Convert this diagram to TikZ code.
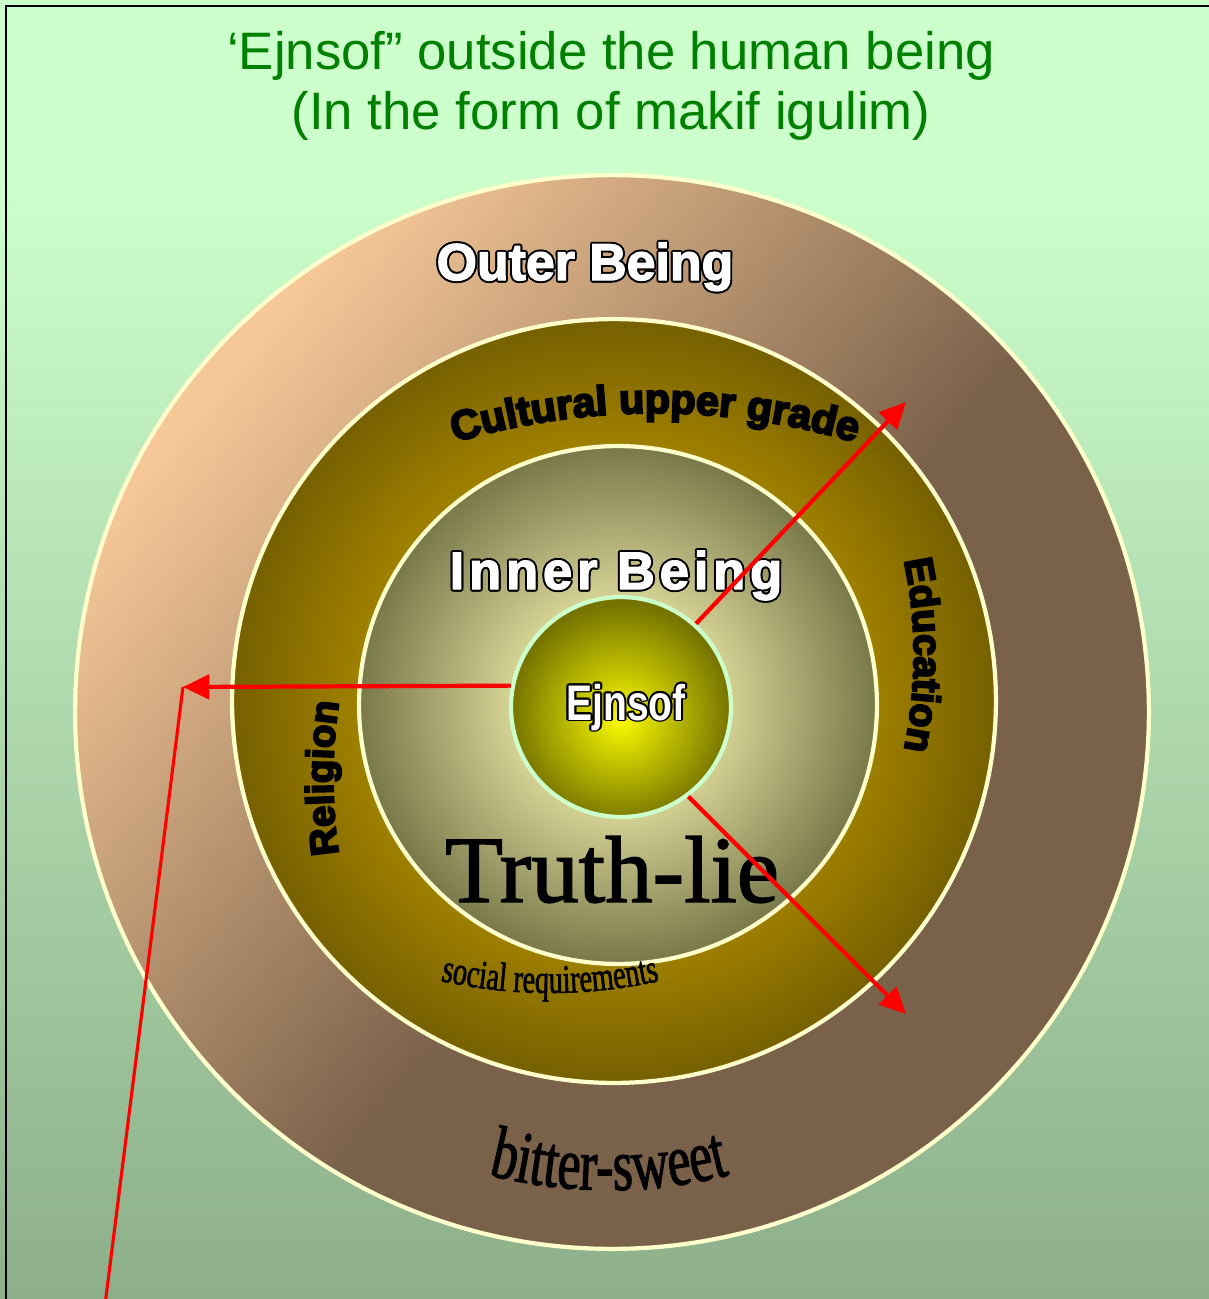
\documentclass[tikz,border=0pt]{standalone}
\usepackage{fontspec}
\setmainfont{Liberation Sans}
\newfontfamily\boldsans[FakeBold=2.5]{Liberation Sans Bold}
\newfontfamily\spacedsans[LetterSpace=9,FakeBold=2.5]{Liberation Sans Bold}
\newfontfamily\heavysans[FakeBold=5]{Liberation Sans Bold}
\newfontfamily\narrowsans[FakeStretch=0.78]{Liberation Sans Bold}
\newfontfamily\bookserif[FakeBold=1.5]{Liberation Serif}
\newfontfamily\narrowserif[FakeStretch=0.7,FakeBold=1.5]{Liberation Serif}
\usetikzlibrary{calc,arrows.meta,decorations.text}
\definecolor{bgtop}{RGB}{204,255,204}
\definecolor{bgbot}{RGB}{141,175,138}
\definecolor{titlegreen}{RGB}{0,128,0}
\definecolor{rim}{RGB}{255,255,204}
\definecolor{mint}{RGB}{204,255,204}
\definecolor{peach}{RGB}{246,200,152}
\definecolor{bark}{RGB}{122,97,74}
\definecolor{goldhi}{RGB}{158,127,0}
\definecolor{golddk}{RGB}{118,96,0}
\definecolor{palehi}{RGB}{240,236,170}
\definecolor{paledk}{RGB}{120,120,74}
\definecolor{yellowhi}{RGB}{250,250,0}
\definecolor{yellowdk}{RGB}{118,116,0}
\definecolor{rayred}{RGB}{255,0,0}
\pgfdeclareverticalshading{bgfill}{100bp}{color(0bp)=(bgbot); color(25bp)=(bgbot); color(68bp)=(bgtop); color(100bp)=(bgtop)}
\pgfdeclarehorizontalshading{outerfill}{100bp}{color(0bp)=(peach); color(26bp)=(peach); color(54bp)=(bark); color(100bp)=(bark)}
\pgfdeclareradialshading{culturefill}{\pgfpoint{0bp}{0bp}}{color(0bp)=(goldhi); color(17bp)=(goldhi); color(25bp)=(golddk); color(50bp)=(golddk)}
\pgfdeclareradialshading{innerfill}{\pgfpoint{0bp}{0bp}}{color(0bp)=(palehi); color(9bp)=(palehi!85!paledk); color(25bp)=(paledk); color(50bp)=(paledk)}
\pgfdeclareradialshading{ejnsoffill}{\pgfpoint{0bp}{-3bp}}{color(0bp)=(yellowhi); color(25bp)=(yellowdk); color(50bp)=(yellowdk)}
\tikzset{
  frame/.style={black,line width=1.2pt},
  titletext/.style={anchor=base,inner sep=0pt,text=titlegreen,font=\fontsize{30pt}{30pt}\selectfont},
  ring/.style={circle,inner sep=0pt,draw=rim,line width=2.4pt},
  outlineback/.style={anchor=base,inner sep=0pt,text=black},
  outlinefront/.style={anchor=base,inner sep=0pt,text=white},
  serifbig/.style={anchor=base,inner sep=0pt,text=black},
  rayarrow/.style={rayred,line width=2.4pt,-{Triangle[length=15pt,width=14pt]}},
  rayline/.style={rayred,line width=1.8pt},
}
\newcommand{\outlinelabel}[4]{%
  \foreach \a in {0,30,...,330}
    \node[outlineback,font=#3] (#1-\a) at ($(#2)+(\a:1.1pt)$) {#4};
  \node[outlinefront,font=#3] (#1) at (#2) {#4};
}
\begin{document}
\begin{tikzpicture}[x=0.02cm,y=-0.02cm]
  \useasboundingbox (0,0) rectangle (1209,1299);
  \clip (0,0) rectangle (1209,1299);
  \path[shading=bgfill] (0,0) rectangle (1209,1299);
  \draw[frame] (6,6) rectangle (1240,1330);
  \node[titletext] (title1) at (611,69) {‘Ejnsof” outside the human being};
  \node[titletext] (title2) at (611,129) {(In the form of makif igulim)};
  % rings
  \node[ring,minimum size=21.48cm,shading=outerfill,shading angle=-40] (outer) at (612,712) {};
  \node[ring,minimum size=15.28cm,shading=culturefill] (culture) at (614,701) {};
  \node[ring,minimum size=10.36cm,shading=innerfill] (inner) at (618,705) {};
  \node[ring,draw=mint,minimum size=4.4cm,shading=ejnsoffill] (ejnsof) at (621,707) {};
  % labels
  \outlinelabel{outerlbl}{585,280}{\boldsans\fontsize{29.5pt}{29.5pt}\selectfont}{Outer Being}
  \outlinelabel{innerlbl}{616,589}{\spacedsans\fontsize{30pt}{30pt}\selectfont}{Inner Being}
  \outlinelabel{ejnsoflbl}{626,720}{\narrowsans\fontsize{28.5pt}{28.5pt}\selectfont}{Ejnsof}
  \path[decorate,decoration={text along path,text align=center,text color=black,
      text={|\heavysans\fontsize{23.5pt}{23.5pt}\selectfont|Cultural upper grade}}]
    ($(655,1113)+(-112:700)$) arc[start angle=-112,end angle=-68,radius=700];
  \path[decorate,decoration={text along path,text align=center,text color=black,
      text={|\heavysans\fontsize{22.5pt}{22.5pt}\selectfont|Education}}]
    ($(454,655)+(-15:460)$) arc[start angle=-15,end angle=15,radius=460];
  \path[decorate,decoration={text along path,text align=center,text color=black,
      text={|\heavysans\fontsize{22pt}{22pt}\selectfont|Religion}}]
    ($(833,778)+(-195:500)$) arc[start angle=-195,end angle=-165,radius=500];
  \path[decorate,decoration={text along path,text align=center,text color=black,
      text={|\narrowserif\fontsize{23pt}{23pt}\selectfont|social requirements}}]
    ($(550,493)+(110:500)$) arc[start angle=110,end angle=70,radius=500];
  \path[decorate,decoration={text along path,text align=center,text color=black,
      text={|\narrowserif\fontsize{42pt}{42pt}\selectfont|bitter-sweet}}]
    ($(609,700)+(110:490)$) arc[start angle=110,end angle=70,radius=490];
  \node[serifbig,font=\bookserif\fontsize{54pt}{54pt}\selectfont] (truthlie) at (612,902) {Truth-lie};
  % rays
  \coordinate (netip) at (906,402);
  \coordinate (setip) at (906,1014);
  \coordinate (wtip) at (183,687);
  \coordinate (lowend) at (105,1305);
  \draw[rayarrow] (ejnsof.48) -- (netip);
  \draw[rayarrow] (ejnsof.-53) -- (setip);
  \draw[rayarrow] (ejnsof.169) -- (wtip);
  \draw[rayline] (lowend) -- (wtip);
\end{tikzpicture}
\end{document}
